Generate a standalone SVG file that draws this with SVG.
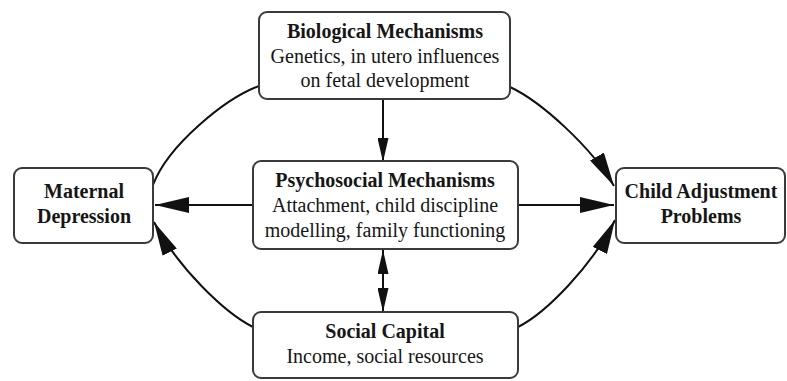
<svg xmlns="http://www.w3.org/2000/svg" width="787" height="381" viewBox="0 0 787 381">
<defs>
<style>
.box{fill:#fff;stroke:#3a3a3a;stroke-width:2}
.t{font-family:"Liberation Serif","Times New Roman",serif;font-size:20px;fill:#161616;text-anchor:middle}
.b{font-weight:bold}
.c{fill:none;stroke:#111;stroke-width:2}
</style>
<marker id="big" viewBox="0 0 34 16" refX="34" refY="8" markerWidth="34" markerHeight="16" markerUnits="userSpaceOnUse" orient="auto"><path d="M0,0 L34,8 L0,16 z" fill="#111"/></marker>
<marker id="sm" viewBox="0 0 24 11" refX="24" refY="5.5" markerWidth="24" markerHeight="11" markerUnits="userSpaceOnUse" orient="auto-start-reverse"><path d="M0,0 L24,5.5 L0,11 z" fill="#111"/></marker>
</defs>
<rect width="787" height="381" fill="#fff"/>
<g id="connectors">
<path class="c" d="M383,99 L383,162" marker-end="url(#sm)"/>
<path class="c" d="M383,250 L383,312" marker-start="url(#sm)" marker-end="url(#sm)"/>
<path class="c" d="M253,205 L155,205" marker-end="url(#big)"/>
<path class="c" d="M518,205 L614,205" marker-end="url(#big)"/>
<path class="c" d="M259,86 C226,98 168,145 153,185"/>
<path class="c" d="M510,87 C542,102 592,148 614,186" marker-end="url(#big)"/>
<path class="c" d="M253,327 C225,313 178,268 154,222" marker-end="url(#big)"/>
<path class="c" d="M518,327 C546,313 592,266 615,220" marker-end="url(#big)"/>
</g>
<g id="bio">
<rect class="box" x="259" y="12" width="251" height="87" rx="8"/>
<text class="t b" x="385" y="38" font-family="Liberation Serif, serif">Biological Mechanisms</text>
<text class="t" x="385" y="63" font-family="Liberation Serif, serif">Genetics, in utero influences</text>
<text class="t" x="385" y="87" font-family="Liberation Serif, serif">on fetal development</text>
</g>
<g id="psycho">
<rect class="box" x="253" y="161" width="265" height="88" rx="8"/>
<text class="t b" x="385" y="187" font-family="Liberation Serif, serif">Psychosocial Mechanisms</text>
<text class="t" x="385" y="212" font-family="Liberation Serif, serif">Attachment, child discipline</text>
<text class="t" x="385" y="237" font-family="Liberation Serif, serif">modelling, family functioning</text>
</g>
<g id="maternal">
<rect class="box" x="14" y="168" width="139" height="75" rx="8"/>
<text class="t b" x="84" y="198" font-family="Liberation Serif, serif">Maternal</text>
<text class="t b" x="84" y="223" font-family="Liberation Serif, serif">Depression</text>
</g>
<g id="child">
<rect class="box" x="616" y="168" width="169" height="75" rx="8"/>
<text class="t b" x="701" y="198" font-family="Liberation Serif, serif">Child Adjustment</text>
<text class="t b" x="701" y="223" font-family="Liberation Serif, serif">Problems</text>
</g>
<g id="social">
<rect class="box" x="253" y="312" width="265" height="66" rx="8"/>
<text class="t b" x="385" y="338" font-family="Liberation Serif, serif">Social Capital</text>
<text class="t" x="385" y="363" font-family="Liberation Serif, serif">Income, social resources</text>
</g>
</svg>
